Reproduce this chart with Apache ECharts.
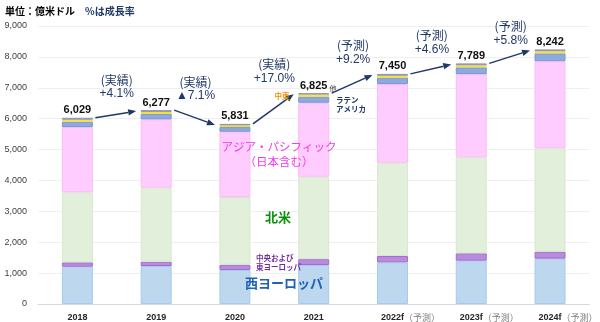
<!DOCTYPE html>
<html>
<head>
<meta charset="utf-8">
<script src="https://cdn.jsdelivr.net/npm/echarts@6/dist/echarts.min.js"></script>
<style>
  html, body { margin: 0; padding: 0; background: #fff; }
  #chart { width: 600px; height: 322px; }
</style>
</head>
<body>
<div id="chart"></div>
<script>
// Regional market size (100M USD), stacked by region
const years = ['2018', '2019', '2020', '2021', '2022f', '2023f', '2024f'];
const forecast = [false, false, false, false, true, true, true];

const westEurope   = [1207, 1230, 1100, 1262, 1349, 1402, 1467];
const centralEast  = [140, 140, 170, 190, 204, 238, 226];
const northAmerica = [2265, 2395, 2193, 2668, 3020, 3107, 3345];
const asiaPacific  = [2116, 2212, 2113, 2395, 2547, 2696, 2822];
const latinAmerica = [172, 172, 152, 195, 204, 217, 253];
const middleEast   = [65, 70, 55, 70, 65, 65, 70];
const others       = [64, 58, 48, 45, 61, 64, 59];

// Year-over-year growth between consecutive years
const growthKind = ['(実績)', '(実績)', '(実績)', '(予測)', '(予測)', '(予測)'];
const growthText = ['+4.1%', '▲7.1%', '+17.0%', '+9.2%', '+4.6%', '+5.8%'];

const yTicks = [0, 1000, 2000, 3000, 4000, 5000, 6000, 7000, 8000, 9000];

const stacks = [westEurope, centralEast, northAmerica, asiaPacific, latinAmerica, middleEast, others];
const totals = years.map((_, i) => stacks.reduce((s, arr) => s + arr[i], 0));

// Layout: how far each growth label sits above the middle of its arrow (px)
const growthLift = [20, 21, 30, 24, 19, 16];

const FONT = '"Liberation Sans", "Noto Sans CJK JP", sans-serif';
const JP = '"Noto Sans CJK JP", "Liberation Sans", sans-serif';
const NAVY = '#203864';

const segStyles = [
  { color: '#BDD7EE', borderColor: '#A6CBEC' },
  { color: '#B88BDD', borderColor: '#A36AD3' },
  { color: '#E2EFDA', borderColor: '#D6EAC9' },
  { color: '#FFCCFF', borderColor: '#F9BCF7' },
  { color: '#8EA9DB', borderColor: '#7696D6' },
  { color: '#FFF066', borderColor: '#F2DC3A' },
  { color: '#A6A6B8', borderColor: '#9494A8' }
];
const names = ['西ヨーロッパ', '中央および東ヨーロッパ', '北米', 'アジア・パシフィック', 'ラテンアメリカ', '中東', '他'];

const barSeries = stacks.map((arr, k) => ({
  name: names[k],
  type: 'bar',
  stack: 'total',
  barWidth: 31,
  data: arr,
  itemStyle: Object.assign({ borderWidth: 1 }, segStyles[k]),
  label: k === stacks.length - 1 ? {
    show: true,
    position: 'top',
    distance: 2,
    formatter: p => totals[p.dataIndex].toLocaleString('en-US'),
    fontFamily: FONT,
    fontSize: 11,
    fontWeight: 'bold',
    color: '#111'
  } : { show: false },
  emphasis: { disabled: true }
}));

// Arrows from each bar top to the next one
const arrowSeries = {
  type: 'custom',
  z: 5,
  silent: true,
  data: growthText.map((_, i) => [i, totals[i]]),
  renderItem: function (params, api) {
    const i = params.dataIndex;
    const a = api.coord([i, totals[i]]);
    const b = api.coord([i + 1, totals[i + 1]]);
    const half = 16;
    const x0 = a[0] + half + 2, y0 = a[1];
    const x1 = b[0] - half - 4, y1 = b[1] + 1;
    const ang = Math.atan2(y1 - y0, x1 - x0);
    const L = 8, W = 3.2;
    const bx = x1 - L * Math.cos(ang), by = y1 - L * Math.sin(ang);
    const nx = -Math.sin(ang), ny = Math.cos(ang);
    return {
      type: 'group',
      children: [
        { type: 'line', shape: { x1: x0, y1: y0, x2: bx, y2: by },
          style: { stroke: NAVY, lineWidth: 1.5 } },
        { type: 'polygon', shape: { points: [[x1, y1], [bx + nx * W, by + ny * W], [bx - nx * W, by - ny * W]] },
          style: { fill: NAVY } }
      ]
    };
  }
};

// Two-line growth labels centred between the bars
const growthSeries = {
  type: 'custom',
  z: 6,
  silent: true,
  data: growthText.map((_, i) => [i, totals[i]]),
  renderItem: function (params, api) {
    const i = params.dataIndex;
    const a = api.coord([i, totals[i]]);
    const b = api.coord([i + 1, totals[i + 1]]);
    const cx = (a[0] + b[0]) / 2;
    const cy = (a[1] + b[1]) / 2 - growthLift[i];
    return {
      type: 'group',
      children: [
        { type: 'text', style: { text: growthKind[i], x: cx, y: cy - 14, align: 'center', verticalAlign: 'middle',
            font: '12px ' + JP, fill: NAVY } },
        { type: 'text', style: { text: growthText[i], x: cx, y: cy, align: 'center', verticalAlign: 'middle',
            font: '12px ' + FONT, fill: NAVY } }
      ]
    };
  }
};

const chart = echarts.init(document.getElementById('chart'), null, { renderer: 'canvas' });

function txt(text, x, y, size, color, weight, align) {
  return {
    type: 'text', x: x, y: y, silent: true, z: 10,
    style: { text: text, fill: color, align: align || 'center', verticalAlign: 'middle',
      font: (weight || 'normal') + ' ' + size + 'px ' + JP }
  };
}

chart.setOption({
  animation: false,
  backgroundColor: '#fff',
  grid: { left: 38, right: 3, top: 26, bottom: 18, containLabel: false },
  xAxis: {
    type: 'category',
    data: years,
    axisTick: { show: false },
    axisLine: { lineStyle: { color: '#D9D9D9', width: 1 } },
    axisLabel: {
      interval: 0,
      hideOverlap: false,
      margin: 9,
      formatter: (v, i) => forecast[i] ? '{y|' + v + '}{p|（予測）}' : '{y0|' + v + '}',
      rich: {
        y0: { fontFamily: FONT, fontSize: 9, fontWeight: 'bold', color: '#262626' },
        y: { fontFamily: FONT, fontSize: 9, fontWeight: 'bold', color: '#262626', padding: [0, 0, 0, 36] },
        p: { fontFamily: JP, fontSize: 9, color: '#7F7F7F' }
      }
    }
  },
  yAxis: {
    type: 'value',
    min: yTicks[0],
    max: yTicks[yTicks.length - 1],
    interval: yTicks[1] - yTicks[0],
    axisLine: { show: false },
    axisTick: { show: false },
    splitLine: { lineStyle: { color: '#EFEFEF', width: 1 } },
    axisLabel: {
      margin: 11,
      fontFamily: FONT, fontSize: 9, color: '#404040',
      formatter: v => v.toLocaleString('en-US')
    }
  },
  series: barSeries.concat([arrowSeries, growthSeries]),
  graphic: [
    txt('単位：億米ドル', 5, 11, 10, '#000', 'bold', 'left'),
    txt('%は成長率', 85, 11, 10, NAVY, 'bold', 'left'),
    txt('アジア・パシフィック', 279, 147, 11.5, '#F03CEB'),
    txt('（日本含む）', 279, 162, 11.5, '#F03CEB'),
    txt('北米', 278, 217, 13, '#0A8F0A', 'bold'),
    txt('中央および', 256, 258, 7.5, '#7030A0', 'bold', 'left'),
    txt('東ヨーロッパ', 256, 267, 7.5, '#7030A0', 'bold', 'left'),
    txt('西ヨーロッパ', 284, 283, 13, '#1E62B8', 'bold'),
    txt('中東', 282, 96, 7.5, '#F39200', 'bold'),
    txt('他', 333, 88, 7, '#404040'),
    txt('ラテン', 336, 100, 7.5, NAVY, 'bold', 'left'),
    txt('アメリカ', 336, 109, 7.5, NAVY, 'bold', 'left')
  ]
});
</script>
</body>
</html>
